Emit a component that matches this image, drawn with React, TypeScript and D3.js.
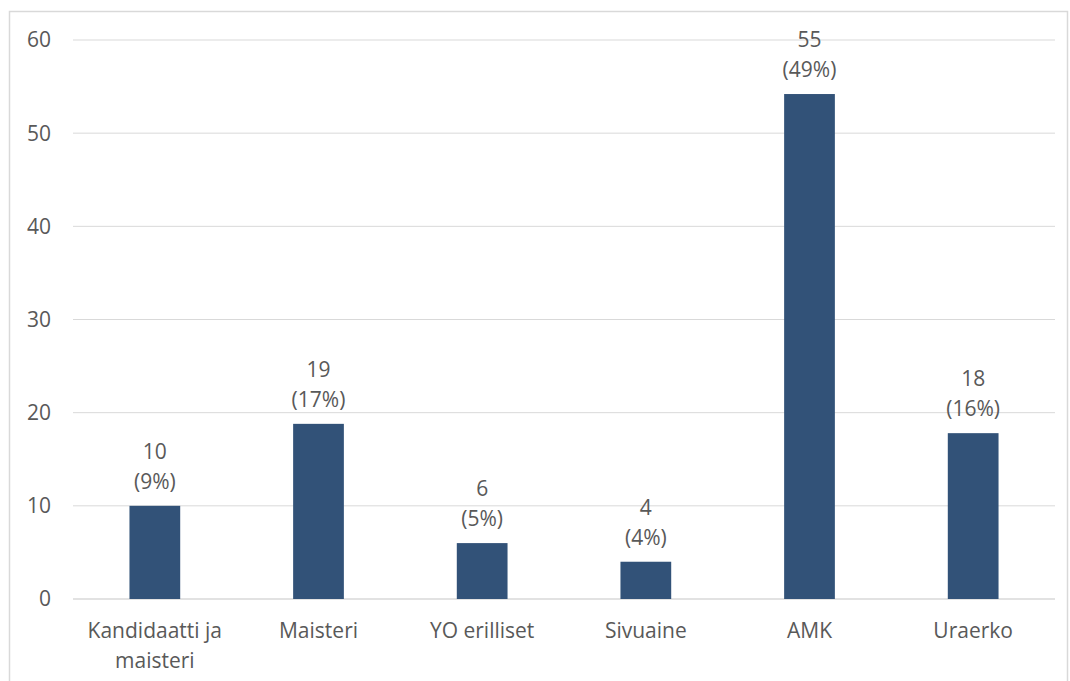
import React from 'react';
import * as d3 from 'd3';

const categories = ['Kandidaatti ja maisteri', 'Maisteri', 'YO erilliset', 'Sivuaine', 'AMK', 'Uraerko'];
const categoryLines = [['Kandidaatti ja', 'maisteri'], ['Maisteri'], ['YO erilliset'], ['Sivuaine'], ['AMK'], ['Uraerko']];
const barValues = [10, 18.8, 6, 4, 54.2, 17.8];
const countLabels = ['10', '19', '6', '4', '55', '18'];
const percentLabels = ['(9%)', '(17%)', '(5%)', '(4%)', '(49%)', '(16%)'];
const yTicks = [0, 10, 20, 30, 40, 50, 60];

const W = 1070;
const H = 681;
const margin = { top: 40, right: 15, bottom: 82, left: 73 };
const font = '"Open Sans", "Noto Sans", sans-serif';
const textColor = '#595959';
const fs = 21;

export default function App() {
  const x = d3
    .scaleBand<string>()
    .domain(categories)
    .range([margin.left, W - margin.right])
    .paddingInner(0.69)
    .paddingOuter(0.345);

  const y = d3.scaleLinear().domain([0, 60]).range([H - margin.bottom, margin.top]);

  const bw = x.bandwidth();

  return (
    <svg
      width={W}
      height={H}
      style={{ position: 'absolute', left: 0, top: 0, background: '#fff' }}
      fontFamily={font}
    >
      <rect x={9.5} y={11.5} width={1058} height={700} fill="#fff" stroke="#d9d9d9" strokeWidth={1.5} />
      {yTicks.map(t => (
        <g key={t}>
          <line
            x1={margin.left}
            x2={W - margin.right}
            y1={y(t)}
            y2={y(t)}
            stroke="#d9d9d9"
            strokeWidth={t === 0 ? 1.5 : 1}
          />
          <text x={51} y={y(t)} dy="0.35em" textAnchor="end" fontSize={fs} fill={textColor}>
            {t}
          </text>
        </g>
      ))}
      {categories.map((c, i) => {
        const x0 = x(c)!;
        const cx = x0 + bw / 2;
        const top = y(barValues[i]);
        return (
          <g key={c}>
            <rect x={x0} y={top} width={bw} height={y(0) - top} fill="#325278" />
            <text x={cx} y={top - 47} textAnchor="middle" fontSize={fs} fill={textColor}>
              {countLabels[i]}
            </text>
            <text x={cx} y={top - 17} textAnchor="middle" fontSize={fs} fill={textColor}>
              {percentLabels[i]}
            </text>
            {categoryLines[i].map((ln, j) => (
              <text key={j} x={cx} y={638 + j * 30} textAnchor="middle" fontSize={fs} fill={textColor}>
                {ln}
              </text>
            ))}
          </g>
        );
      })}
    </svg>
  );
}
